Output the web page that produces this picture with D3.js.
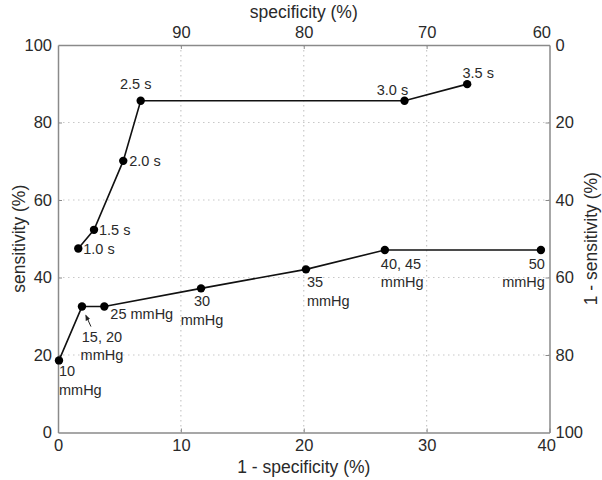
<!DOCTYPE html>
<html>
<head>
<meta charset="utf-8">
<script src="https://cdn.jsdelivr.net/npm/d3@7"></script>
<style>
  html, body { margin: 0; padding: 0; background: #fff; }
  svg { display: block; font-family: "Liberation Sans", Arial, Helvetica, sans-serif; }
</style>
</head>
<body>
<svg id="chart" width="602" height="480"></svg>
<script>
// ---- data ----
const timeLabels = ["1.0 s", "1.5 s", "2.0 s", "2.5 s", "3.0 s", "3.5 s"];
const timeFPR = [1.65, 2.93, 5.31, 6.73, 28.2, 33.3];      // 1 - specificity (%)
const timeSens = [47.5, 52.3, 70.1, 85.6, 85.6, 89.9];     // sensitivity (%)

const pressureLabels = ["10\nmmHg", "15, 20\nmmHg", "25 mmHg", "30\nmmHg", "35\nmmHg", "40, 45\nmmHg", "50\nmmHg"];
const pressureFPR = [0.08, 1.95, 3.77, 11.64, 20.18, 26.6, 39.3];
const pressureSens = [18.6, 32.5, 32.5, 37.2, 42.1, 47.1, 47.1];

const xTicks = [0, 10, 20, 30, 40];            // 1 - specificity
const specTicks = [90, 80, 70, 60];            // specificity (top)
const yTicks = [0, 20, 40, 60, 80, 100];       // sensitivity
const missTicks = [0, 20, 40, 60, 80, 100];    // 1 - sensitivity (right)

// ---- label layout (pixel offsets from point; styling only) ----
const timeLabelLayout = [
  { anchor: "start", dx: 5, dy: 6 },
  { anchor: "start", dx: 5, dy: 5 },
  { anchor: "start", dx: 6, dy: 5 },
  { anchor: "middle", dx: -5, dy: -12 },
  { anchor: "middle", dx: -12, dy: -6 },
  { anchor: "middle", dx: 11, dy: -6 }
];
const pressureLabelLayout = [
  { anchor: "start", dx: 0, dy: 16 },
  { anchor: "middle", dx: 20, dy: 35 },
  { anchor: "start", dx: 6, dy: 12 },
  { anchor: "middle", dx: 1, dy: 18 },
  { anchor: "start", dx: 1, dy: 18 },
  { anchor: "start", dx: -4, dy: 19 },
  { anchor: "end", dx: 4, dy: 19 }
];

// ---- setup ----
const svg = d3.select("#chart");
const L = 58, R = 549.5, T = 45, B = 432.5;
const x = d3.scaleLinear().domain([0, 40]).range([L, R]);
const xSpec = d3.scaleLinear().domain([100, 60]).range([L, R]);
const y = d3.scaleLinear().domain([0, 100]).range([B, T]);
const yMiss = d3.scaleLinear().domain([100, 0]).range([B, T]);

const axisColor = "#8a8a8a";
const textColor = "#2a2a2a";
const gridColor = "#c8c8c8";

// grid
const grid = svg.append("g");
grid.selectAll("line.gx").data(xTicks.slice(1, -1)).join("line")
  .attr("x1", d => x(d)).attr("x2", d => x(d)).attr("y1", T).attr("y2", B)
  .attr("stroke", gridColor).attr("stroke-width", 1.2).attr("stroke-dasharray", "1.5,3.5");
grid.selectAll("line.gy").data(yTicks.slice(1, -1)).join("line")
  .attr("y1", d => y(d)).attr("y2", d => y(d)).attr("x1", L).attr("x2", R)
  .attr("stroke", gridColor).attr("stroke-width", 1.2).attr("stroke-dasharray", "1.5,3.5");

// axes
function styleAxis(g) {
  g.select(".domain").attr("stroke", axisColor).attr("stroke-width", 1.5);
  g.selectAll(".tick line").attr("stroke", axisColor).attr("stroke-width", 1);
  g.selectAll(".tick text").attr("fill", textColor).style("font-size", "16.5px")
    .style("font-family", "'Liberation Sans', Arial, sans-serif");
}
svg.append("g").attr("transform", `translate(0,${B})`)
  .call(d3.axisBottom(x).tickValues(xTicks).tickSizeInner(-4).tickSizeOuter(0).tickPadding(7))
  .call(styleAxis)
  .call(g => g.selectAll(".tick").filter(d => d === 40).select("text").attr("dx", "-0.2em"));
svg.append("g").attr("transform", `translate(0,${T})`)
  .call(d3.axisTop(xSpec).tickValues(specTicks).tickSizeInner(-4).tickSizeOuter(0).tickPadding(7))
  .call(styleAxis)
  .call(g => {
    const t60 = g.selectAll(".tick").filter(d => d === 60);
    t60.select("line").remove();
    t60.select("text").attr("text-anchor", "end").attr("dx", 1);
  });
svg.append("g").attr("transform", `translate(${L},0)`)
  .call(d3.axisLeft(y).tickValues(yTicks).tickSizeInner(-4).tickSizeOuter(0).tickPadding(6))
  .call(styleAxis)
  .call(g => g.selectAll(".tick").filter(d => d === 0 || d === 100).select("line").remove());
svg.append("g").attr("transform", `translate(${R},0)`)
  .call(d3.axisRight(yMiss).tickValues(missTicks).tickSizeInner(-4).tickSizeOuter(0).tickPadding(6))
  .call(styleAxis)
  .call(g => g.selectAll(".tick").filter(d => d === 0 || d === 100).select("line").remove());

// axis titles
const titleFont = "17.5px";
svg.append("text").attr("x", (L + R) / 2).attr("y", 18).attr("text-anchor", "middle")
  .attr("fill", textColor).style("font-size", titleFont).text("specificity (%)");
svg.append("text").attr("x", (L + R) / 2).attr("y", 473).attr("text-anchor", "middle")
  .attr("fill", textColor).style("font-size", titleFont).text("1 - specificity (%)");
svg.append("text").attr("transform", `translate(25,${(T + B) / 2}) rotate(-90)`)
  .attr("text-anchor", "middle").attr("fill", textColor).style("font-size", titleFont)
  .text("sensitivity (%)");
svg.append("text").attr("transform", `translate(597,${(T + B) / 2}) rotate(-90)`)
  .attr("text-anchor", "middle").attr("fill", textColor).style("font-size", titleFont)
  .text("1 - sensitivity (%)");

// series
const line = d3.line().x(d => x(d[0])).y(d => y(d[1]));
const timePts = timeFPR.map((v, i) => [v, timeSens[i]]);
const pressPts = pressureFPR.map((v, i) => [v, pressureSens[i]]);

[timePts, pressPts].forEach(pts => {
  svg.append("path").datum(pts).attr("d", line)
    .attr("fill", "none").attr("stroke", "#111").attr("stroke-width", 1.6);
  svg.append("g").selectAll("circle").data(pts).join("circle")
    .attr("cx", d => x(d[0])).attr("cy", d => y(d[1])).attr("r", 4.2).attr("fill", "#000");
});

// labels
const labelFont = "14.5px";
function addLabels(pts, labels, layout) {
  pts.forEach((p, i) => {
    const lay = layout[i];
    const t = svg.append("text")
      .attr("x", x(p[0]) + lay.dx).attr("y", y(p[1]) + lay.dy)
      .attr("text-anchor", lay.anchor).attr("fill", textColor).style("font-size", labelFont);
    labels[i].split("\n").forEach((ln, j) => {
      t.append("tspan").attr("x", x(p[0]) + lay.dx).attr("dy", j === 0 ? 0 : 18.5).text(ln);
    });
  });
}
addLabels(timePts, timeLabels, timeLabelLayout);
addLabels(pressPts, pressureLabels, pressureLabelLayout);

// small arrow pointing to the "15, 20 mmHg" point
const ap = pressPts[1];
const ax0 = x(ap[0]) + 9, ay0 = y(ap[1]) + 20, ax1 = x(ap[0]) + 4, ay1 = y(ap[1]) + 9;
svg.append("defs").append("marker").attr("id", "ah").attr("viewBox", "0 0 10 10")
  .attr("refX", 8).attr("refY", 5).attr("markerWidth", 6).attr("markerHeight", 6)
  .attr("orient", "auto").append("path").attr("d", "M0,1 L10,5 L0,9 Z").attr("fill", "#222");
svg.append("line").attr("x1", ax0).attr("y1", ay0).attr("x2", ax1).attr("y2", ay1)
  .attr("stroke", "#222").attr("stroke-width", 1).attr("marker-end", "url(#ah)");
</script>
</body>
</html>
